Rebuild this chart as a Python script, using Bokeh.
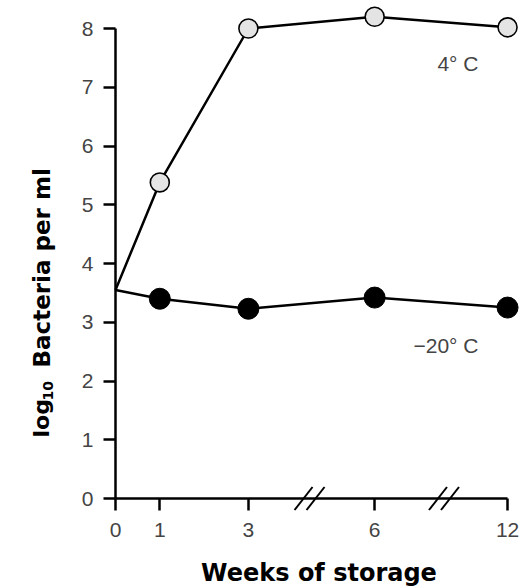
import math
from bokeh.plotting import figure
from bokeh.models import Range1d, FixedTicker, LinearAxis
from bokeh.core.properties import value
from bokeh.embed import file_html
from bokeh.resources import INLINE

# ---- data ----
weeks = [0, 1, 3, 6, 12]
# position of each week on the broken (compressed) x axis
week_axis_pos = [0, 1, 3, 5.85, 8.85]
week_labels = ["0", "1", "3", "6", "12"]
log_bact_4c = [3.55, 5.38, 8.0, 8.2, 8.02]
log_bact_m20c = [3.55, 3.40, 3.23, 3.42, 3.25]
y_ticks = [0, 1, 2, 3, 4, 5, 6, 7, 8]
axis_breaks = [4.38, 7.415]
series_names = ["4° C", "−20° C"]
x_title = "Weeks of storage"
y_title = ["log", "10", "Bacteria per ml"]

W, H = 531, 588
X0, PXX = 115.0, 44.3      # page x of week 0, px per axis unit
Y0, PXY = 498.0, 58.75     # page y of value 0, px per log unit

def dx(px):
    return (px - X0) / PXX

def dy(py):
    return (Y0 - py) / PXY

p = figure(width=W, height=H, x_range=Range1d(dx(0), dx(W)), y_range=Range1d(dy(H), dy(0)),
           output_backend="svg", toolbar_location=None,
           x_axis_type=None, y_axis_type=None, min_border=0)
p.outline_line_color = None
p.background_fill_color = "white"
p.border_fill_color = "white"

xa = LinearAxis(fixed_location=0)
ya = LinearAxis(fixed_location=0)
xa.ticker = FixedTicker(ticks=week_axis_pos)
xa.major_label_overrides = {pos: lab for pos, lab in zip(week_axis_pos, week_labels)}
xa.bounds = (week_axis_pos[0], week_axis_pos[-1])
ya.ticker = FixedTicker(ticks=y_ticks)
ya.bounds = (y_ticks[0], y_ticks[-1])
for ax in (xa, ya):
    ax.axis_line_width = 2.5
    ax.axis_line_color = "black"
    ax.major_tick_line_width = 2.5
    ax.major_tick_line_color = "black"
    ax.major_tick_out = 12
    ax.major_tick_in = 0
    ax.minor_tick_out = 0
    ax.minor_tick_in = 0
    ax.major_label_text_font = "Liberation Sans"
    ax.major_label_text_font_size = "21px"
    ax.major_label_text_color = "#444444"
xa.major_label_standoff = 12
ya.major_label_standoff = 10
p.add_layout(xa, "below")
p.add_layout(ya, "left")

# axis titles
p.text(x=[(dx(200) + dx(437)) / 2], y=[dy(572)], text=[x_title],
       text_font=value("DejaVu Sans"), text_font_style="bold", text_font_size="24px",
       text_color="black", text_align="center", text_baseline="alphabetic")
rot = dict(angle=math.pi / 2, text_font=value("DejaVu Sans"), text_font_style="bold",
           text_color="black", text_align="left", text_baseline="alphabetic")
p.text(x=[dx(41)], y=[dy(437)], text=[y_title[0]], text_font_size="22px", **rot)
p.text(x=[dx(47)], y=[dy(400)], text=[y_title[1]], text_font_size="14px", **rot)
p.text(x=[dx(41)], y=[dy(367)], text=[y_title[2]], text_font_size="23px", **rot)

# series
p.line(week_axis_pos, log_bact_4c, line_color="black", line_width=2.5)
p.line(week_axis_pos, log_bact_m20c, line_color="black", line_width=2.5)
p.scatter(week_axis_pos[1:], log_bact_4c[1:], size=19, fill_color="#e4e4e4",
          line_color="black", line_width=1.6)
p.scatter(week_axis_pos[1:], log_bact_m20c[1:], size=21, fill_color="black",
          line_color="black", line_width=1)

# axis break marks (two slashes each)
hx, hy, off = 9 / PXX, 11.5 / PXY, 6 / PXX
x0s, y0s, x1s, y1s = [], [], [], []
for b in axis_breaks:
    for o in (-off, off):
        x0s.append(b + o - hx); y0s.append(-hy)
        x1s.append(b + o + hx); y1s.append(hy)
p.segment(x0=x0s, y0=y0s, x1=x1s, y1=y1s, line_color="black", line_width=2)

# series labels
p.text(x=[dx(478), dx(478)], y=[dy(62.5), dy(344.5)], text=series_names,
       text_font=value("Liberation Sans"), text_font_size="21px", text_color="#444444",
       text_align="right", text_baseline="middle")

open("out.html", "w").write(file_html(p, INLINE))
